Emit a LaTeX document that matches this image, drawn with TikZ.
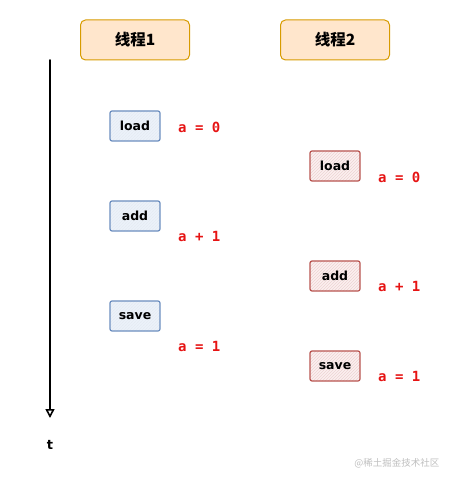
\documentclass[tikz,border=0pt]{standalone}
\usepackage{fontspec}
\setmainfont{DejaVu Sans}
\newfontfamily\cjk{Noto Sans CJK SC}
\newfontfamily\monofont{DejaVu Sans Mono}
\usetikzlibrary{arrows.meta,positioning,patterns}
\definecolor{threadorange}{RGB}{255,230,204}
\definecolor{threadgold}{RGB}{215,155,0}
\definecolor{stepblue}{RGB}{108,142,191}
\definecolor{stepbluefill}{RGB}{236,242,250}
\definecolor{stepred}{RGB}{184,84,80}
\definecolor{stepredfill}{RGB}{252,240,240}
\definecolor{valred}{RGB}{230,20,20}

\begin{document}
\begin{tikzpicture}[x=1pt,y=-1pt,>=Stealth,line cap=round,line join=round]
 \useasboundingbox (0,0) rectangle (451,481);
 \tikzset{
  thread/.style={draw=threadgold,fill=threadorange,rounded corners=5pt,line width=1pt,
   minimum width=109pt,minimum height=40pt,font=\cjk\bfseries\fontsize{15.5}{18}\selectfont},
  opblue/.style={draw=stepblue,line width=1.2pt,rounded corners=2pt,
   preaction={fill=stepbluefill},pattern=north east lines,pattern color=stepblue!18,
   minimum width=50pt,minimum height=30pt,inner sep=0pt,font=\bfseries\fontsize{12.5}{14}\selectfont},
  opred/.style={draw=stepred,line width=1.2pt,rounded corners=2pt,
   preaction={fill=stepredfill},pattern=north east lines,pattern color=stepred!25,
   minimum width=50pt,minimum height=30pt,inner sep=0pt,font=\bfseries\fontsize{12.5}{14}\selectfont},
  value/.style={anchor=west,inner sep=0pt,text=valred,font=\monofont\bfseries\fontsize{14}{16}\selectfont}
 }
 % threads
 \node[thread] (th1) at (135,40) {线程1};
 \node[thread] (th2) at (335,40) {线程2};
 % time axis
 \coordinate (tstart) at (50,60);
 \coordinate (tend) at (50,418);
 \draw[-{Triangle[open,length=9pt,width=9pt]},line width=1.6pt] (tstart) -- (tend);
 \node[font=\bfseries\fontsize{13}{15}\selectfont] (t) at (50,445) {t};
 % thread 1
 \node[opblue] (t1load) at (135,126) {load};
 \node[opblue] (t1add) at (135,216) {add};
 \node[opblue] (t1save) at (135,316) {save};
 \node[value] (v1load) at (178,127) {a = 0};
 \node[value] (v1add) at (178,236) {a + 1};
 \node[value] (v1save) at (178,346) {a = 1};
 % thread 2
 \node[opred] (t2load) at (335,166) {load};
 \node[opred] (t2add) at (335,276) {add};
 \node[opred] (t2save) at (335,366) {save};
 \node[value] (v2load) at (378,177) {a = 0};
 \node[value] (v2add) at (378,286) {a + 1};
 \node[value] (v2save) at (378,376) {a = 1};
 % watermark
 \node[anchor=east,text=black!25,font=\cjk\fontsize{9.5}{11}\selectfont] (mark) at (443,463) {@稀土掘金技术社区};
\end{tikzpicture}
\end{document}
